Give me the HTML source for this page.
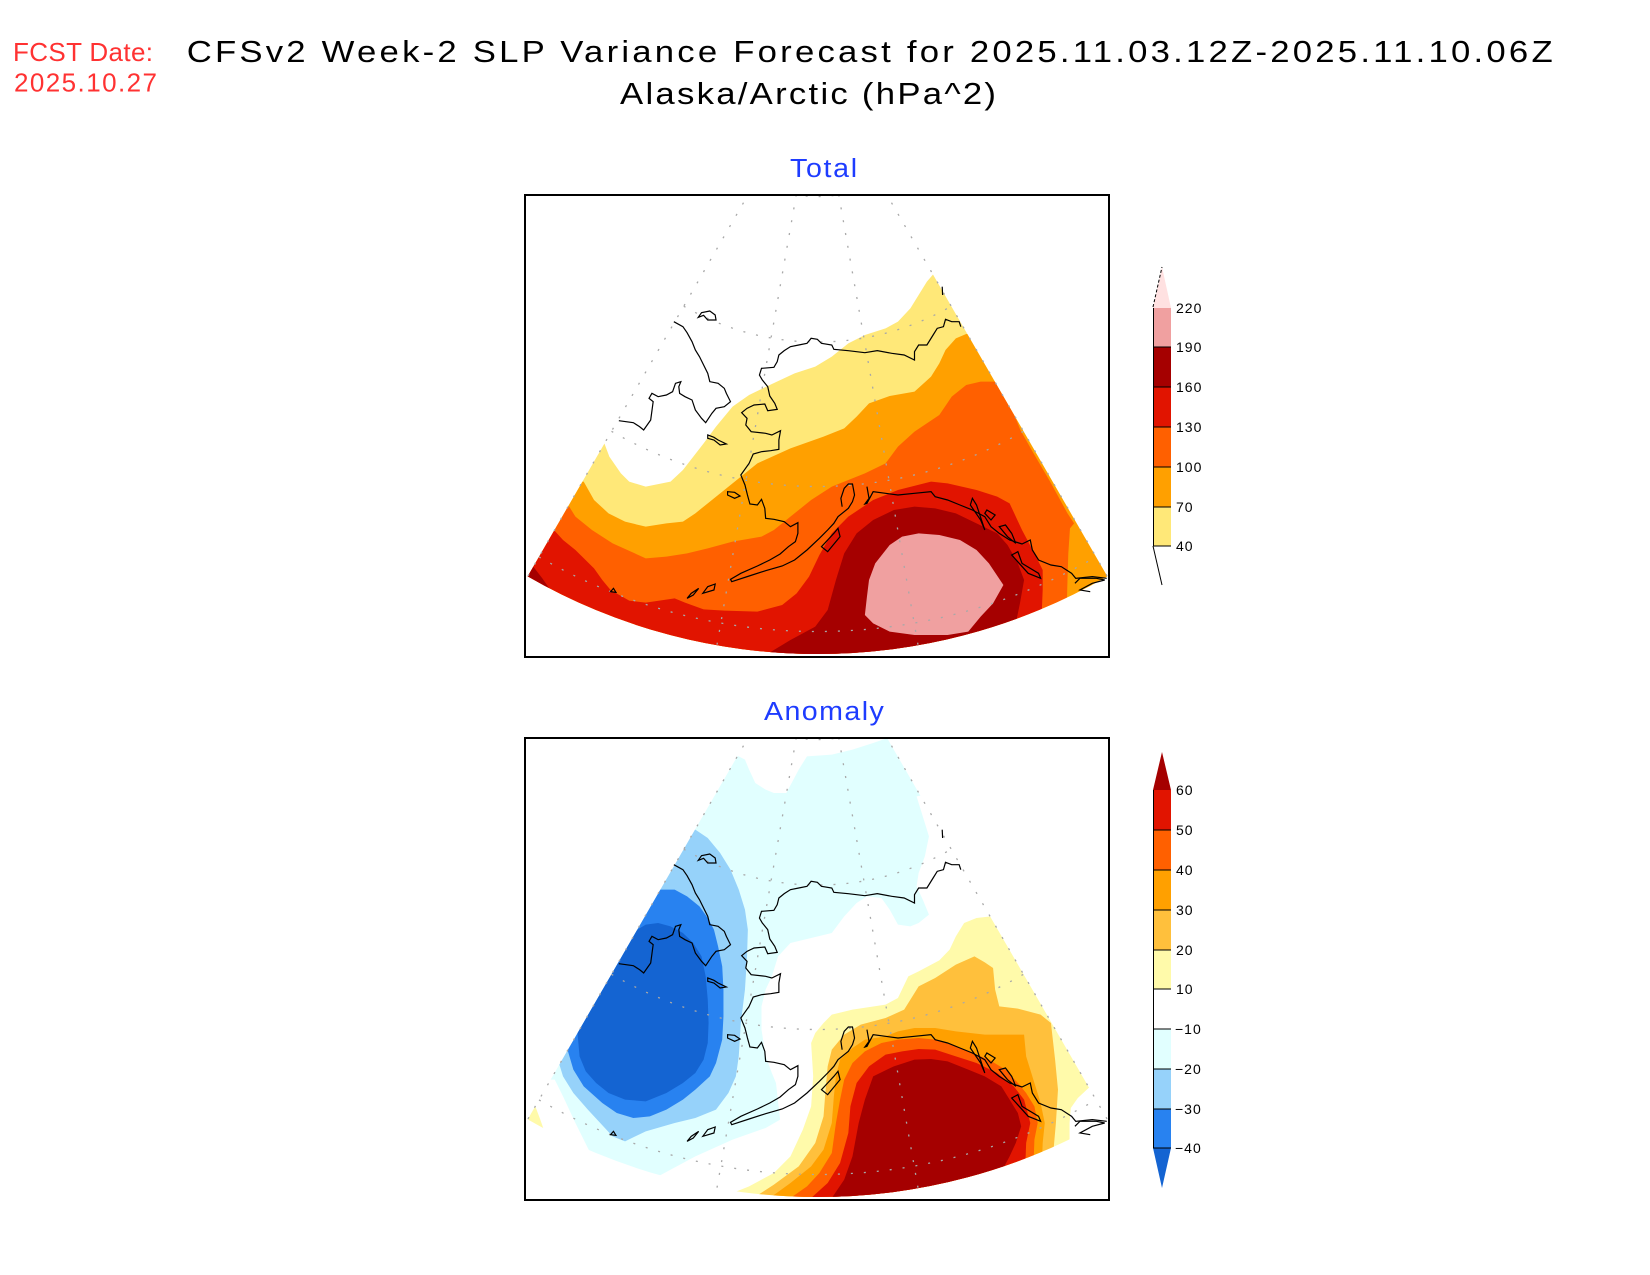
<!DOCTYPE html>
<html><head><meta charset="utf-8"><style>
html,body{margin:0;padding:0;background:#fff;}
svg{display:block;}
text{font-family:"Liberation Sans",sans-serif;}
</style></head><body>
<svg width="1650" height="1275" viewBox="0 0 1650 1275" xmlns="http://www.w3.org/2000/svg">
<defs>
  <clipPath id="box1"><rect x="526" y="196" width="582" height="460"/></clipPath>
  <clipPath id="box2"><rect x="526" y="739" width="582" height="460"/></clipPath>
  <clipPath id="fan1"><path d="M817.5,74.5 L527.7,576.4 A579.6,579.6 0 0 0 1107.3,576.4 Z"/></clipPath>
  <clipPath id="fan2"><path d="M817.5,617.5 L527.7,1119.4 A579.6,579.6 0 0 0 1107.3,1119.4 Z"/></clipPath>
  <g id="grid" fill="none" stroke="#a8a8a8" stroke-width="1.3" stroke-dasharray="2 11">
    <line x1="756.5" y1="180.2" x2="527.7" y2="576.4"/>
    <line x1="796.3" y1="194.6" x2="716.9" y2="645.3"/>
    <line x1="838.7" y1="194.6" x2="918.1" y2="645.3"/>
    <line x1="878.5" y1="180.2" x2="1107.3" y2="576.4"/>
    <path d="M756.5,180.2 A122,122 0 0 0 878.5,180.2"/>
    <path d="M683.75,306.2 A267.5,267.5 0 0 0 951.25,306.2"/>
    <path d="M611.5,431.3 A412,412 0 0 0 1023.5,431.3"/>
    <path d="M539,556.9 A557,557 0 0 0 1096,556.9"/>
  </g>
  <g id="coast" fill="none" stroke="#000" stroke-width="1.2" vector-effect="non-scaling-stroke">
    <path vector-effect="non-scaling-stroke" d="M418,425 L440,440 L450,458 L462,485 L470,510 L480,530 L490,555 L500,580 L505,605 L525,610 L540,625 L545,640 L555,665 L540,680 L520,685 L510,700 L495,728 L485,715 L470,690 L462,660 L445,650 L432,640 L430,620 L435,605 L422,610 L415,635 L400,645 L380,650 L365,640 L358,655 L368,665 L362,720 L345,750 L335,740 L320,728 L285,722"/>
    <path vector-effect="non-scaling-stroke" d="M505,393 L485,398 L477,412 L490,406 L500,420 L520,420 L518,405 Z"/>
    <path vector-effect="non-scaling-stroke" d="M500,765 L515,772 L525,780 L545,792 L530,795 L515,780 L500,775 Z"/>
    <path vector-effect="non-scaling-stroke" d="M548,935 L565,937 L578,948 L565,955 L548,945 Z"/>
    <path vector-effect="non-scaling-stroke" d="M265,1235 L272,1225 L278,1237 Z"/>
    <path vector-effect="non-scaling-stroke" d="M450,1255 L460,1240 L478,1225 L465,1245 Z"/>
    <path vector-effect="non-scaling-stroke" d="M488,1240 L500,1220 L518,1212 L515,1230 Z"/>
    <path vector-effect="non-scaling-stroke" d="M1067,320 L1068,345"/>
    <path vector-effect="non-scaling-stroke" d="M1112,440 L1108,425 L1090,425 L1075,418 L1070,440 L1055,445 L1045,465 L1030,495 L1010,495 L1000,515 L1000,540 L975,525 L945,520 L910,512 L880,518 L840,512 L805,508 L800,495 L775,490 L765,478 L750,475 L740,490 L720,495 L700,500 L685,512 L672,525 L668,545 L660,562 L630,565 L625,585 L632,600 L645,620 L650,648 L662,670 L668,688 L645,692 L638,672 L612,675 L595,685 L582,698 L595,715 L592,735 L605,755 L640,760 L655,765 L676,752 L672,780 L672,808 L652,812 L630,815 L610,822 L600,850 L580,885 L590,915 L596,945 L602,972 L620,975 L630,958 L638,985 L640,1015 L660,1018 L685,1025 L700,1040 L718,1028 L718,1060 L712,1085 L695,1100 L675,1122 L650,1140 L620,1158 L580,1180 L555,1198 L558,1205 L600,1188 L640,1172 L680,1158 L710,1140 L740,1110 L770,1075 L790,1050 L805,1030 L815,1010 L825,1000 L840,985 L850,965 L855,945 L850,912 L840,912 L830,925 L822,955 L825,980"/>
    <path vector-effect="non-scaling-stroke" d="M885,920 L890,955 L880,972 L885,970 L900,935 L930,940 L960,945 L1000,940 L1040,935 L1050,950 L1080,960 L1110,975 L1140,990 L1170,1010 L1185,1040 L1205,1060 L1230,1080 L1260,1092 L1280,1080 L1285,1110 L1300,1140 L1330,1155 L1355,1160 L1380,1180 L1390,1195 L1430,1190 L1465,1195"/>
    <path vector-effect="non-scaling-stroke" d="M775,1100 L790,1080 L805,1060 L815,1045 L820,1070 L810,1085 L800,1100 L790,1115 Z"/>
    <path vector-effect="non-scaling-stroke" d="M1135,975 L1140,955 L1150,975 L1170,1050 L1160,1020 Z"/>
    <path vector-effect="non-scaling-stroke" d="M1170,1000 L1175,990 L1195,1005 L1185,1020 Z"/>
    <path vector-effect="non-scaling-stroke" d="M1205,1040 L1220,1035 L1235,1060 L1245,1090 L1225,1070 Z"/>
    <path vector-effect="non-scaling-stroke" d="M1235,1125 L1250,1115 L1260,1150 L1300,1180 L1305,1195 L1275,1180 Z"/>
    <path vector-effect="non-scaling-stroke" d="M1388,1210 L1400,1195 L1440,1195 L1460,1200 L1430,1210 L1400,1230 L1425,1235"/>
  </g>
</defs>

<!-- Titles -->
<text x="13" y="61" font-size="26" fill="#ff3232" textLength="140" lengthAdjust="spacing">FCST Date:</text>
<text x="14" y="91.5" font-size="26" fill="#ff3232" textLength="143" lengthAdjust="spacing">2025.10.27</text>
<text transform="scale(1.12 1)" x="166.7" y="62" font-size="31" fill="#000" textLength="1219.6" lengthAdjust="spacing">CFSv2 Week-2 SLP Variance Forecast for 2025.11.03.12Z-2025.11.10.06Z</text>
<text transform="scale(1.12 1)" x="553.6" y="104" font-size="31" fill="#000" textLength="335.7" lengthAdjust="spacing">Alaska/Arctic (hPa^2)</text>
<text transform="scale(1.1 1)" x="718.2" y="177" font-size="26" fill="#1e3cff" textLength="61" lengthAdjust="spacing">Total</text>
<text transform="scale(1.1 1)" x="694.5" y="720" font-size="26" fill="#1e3cff" textLength="109" lengthAdjust="spacing">Anomaly</text>

<!-- TOP PANEL -->
<g clip-path="url(#box1)">
 <g clip-path="url(#fan1)">
  <g transform="matrix(0.4135 0 0 0.33333 501 180)">
   <polygon fill="#ffe878" points="-50,790 250,790 262,830 290,880 310,905 350,920 410,905 440,870 490,790 520,740 560,680 600,645 650,615 710,580 760,560 800,530 840,490 880,465 930,445 960,425 990,385 1010,345 1030,305 1045,283 1700,283 1700,1600 -50,1600"/>
   <polygon fill="#ffa000" points="-50,905 200,905 225,960 260,1000 300,1025 350,1040 400,1030 440,1025 470,1000 500,970 560,910 620,850 700,805 780,770 830,745 860,710 890,670 940,648 1000,635 1040,590 1060,550 1075,510 1100,475 1125,462 1700,462 1700,1600 -50,1600"/>
   <polygon fill="#ff6000" points="-50,980 165,980 180,1010 220,1050 270,1090 350,1135 400,1130 450,1120 500,1105 560,1085 630,1070 660,1050 700,1010 750,960 800,920 880,880 930,850 960,800 1000,755 1060,705 1090,650 1125,615 1160,605 1195,605 1240,700 1256,750 1288,820 1328,905 1370,1000 1386,1030 1376,1045 1372,1120 1370,1200 1368,1290 1368,1600 -50,1600"/>
   <polygon fill="#e11400" points="-50,1050 128,1050 150,1080 180,1110 225,1165 245,1200 265,1230 310,1262 350,1268 420,1255 445,1268 490,1288 540,1292 620,1295 680,1275 715,1240 745,1190 770,1125 800,1060 840,1010 900,960 960,930 1040,905 1080,910 1150,930 1200,950 1230,970 1260,1050 1290,1120 1310,1170 1310,1230 1308,1290 1308,1600 -50,1600"/>
   <polygon fill="#a50000" points="640,1600 640,1425 700,1380 760,1340 790,1290 810,1200 830,1120 860,1060 900,1020 950,990 1000,980 1050,985 1100,1000 1150,1030 1200,1060 1225,1095 1250,1150 1265,1200 1255,1270 1245,1330 1240,1600"/>
   <polygon fill="#a50000" points="-50,1150 78,1160 100,1195 125,1240 125,1600 -50,1600"/>
   <polygon fill="#f0a0a0" points="880,1305 885,1250 890,1200 905,1150 940,1095 970,1070 1010,1060 1060,1065 1110,1080 1150,1110 1180,1150 1215,1215 1190,1270 1160,1310 1130,1355 1080,1365 1000,1365 940,1355 900,1330"/>
  </g>
 </g>
 <use href="#grid"/>
 <g transform="matrix(0.4135 0 0 0.33333 501 180)"><use href="#coast"/></g>
</g>
<rect x="525" y="195" width="584" height="462" fill="none" stroke="#000" stroke-width="2"/>

<!-- BOTTOM PANEL -->
<g clip-path="url(#box2)">
 <g clip-path="url(#fan2)">
  <g transform="matrix(0.4135 0 0 0.33333 501 723)">
   <polygon fill="#e1ffff" points="0,95 560,95 575,100 590,110 600,140 615,180 640,200 660,210 690,210 705,175 720,140 740,100 800,95 850,80 900,60 935,45 935,-10 1100,-10 1100,200 1005,220 1020,280 1035,340 1025,400 1010,450 1005,490 1020,530 1035,575 1010,600 990,610 960,605 940,560 920,525 885,520 860,540 830,580 800,630 750,645 700,660 670,700 655,760 640,800 630,850 630,920 640,1000 655,1050 665,1080 675,1190 640,1215 560,1250 470,1300 380,1360 300,1330 220,1300 180,1200 150,1120 130,1070 0,1070"/>
   <polygon fill="#96d2fa" points="0,320 470,320 500,345 530,390 555,440 575,500 590,560 597,620 595,700 590,800 580,900 575,1000 568,1060 550,1110 520,1160 470,1185 420,1200 350,1225 300,1255 270,1240 240,1200 210,1160 175,1110 150,1060 140,1020 0,1020"/>
   <polygon fill="#2882f0" points="0,500 385,500 420,500 450,520 480,550 500,585 515,620 525,670 535,730 538,800 538,880 535,950 520,1020 505,1060 470,1100 440,1130 400,1160 360,1180 320,1185 280,1170 245,1140 200,1090 175,1040 162,985 0,985"/>
   <polygon fill="#1464d2" points="0,620 330,620 350,605 380,600 410,610 440,630 465,660 485,700 495,760 500,830 502,900 500,960 490,1010 470,1050 440,1080 400,1110 350,1135 300,1130 260,1110 230,1080 205,1045 190,1000 185,930 0,930"/>
   <polygon fill="#fffaaa" points="540,1600 560,1410 600,1390 660,1350 700,1300 730,1220 750,1150 755,1060 750,960 760,930 780,900 800,875 850,860 930,845 960,825 985,760 1010,745 1060,712 1085,680 1100,640 1120,600 1150,585 1185,580 1500,580 1500,1095 1421,1095 1395,1125 1378,1155 1375,1200 1375,1270 1375,1600"/>
   <polygon fill="#fffaaa" points="0,1150 83,1150 95,1190 105,1225 105,1600 0,1600"/>
   <polygon fill="#ffc03c" points="590,1600 610,1425 660,1385 720,1330 760,1260 780,1180 785,1100 790,1030 800,980 830,935 870,905 930,885 975,860 995,820 1010,790 1050,765 1100,725 1145,700 1170,718 1190,735 1195,800 1205,850 1250,857 1305,875 1330,900 1340,1010 1347,1100 1342,1200 1337,1270 1337,1600"/>
   <polygon fill="#ffa000" points="640,1600 650,1425 700,1380 750,1330 780,1280 800,1200 805,1120 810,1060 820,1010 850,975 880,950 930,940 960,925 1000,915 1050,915 1100,925 1170,935 1230,935 1265,935 1270,1000 1290,1080 1305,1140 1315,1200 1310,1260 1300,1600"/>
   <polygon fill="#ff6000" points="690,1600 700,1425 740,1390 770,1350 800,1290 810,1200 820,1130 830,1070 850,1020 880,985 920,960 960,950 1010,945 1050,950 1100,970 1140,990 1180,1010 1220,1040 1250,1080 1270,1110 1290,1150 1298,1200 1290,1250 1280,1600"/>
   <polygon fill="#e11400" points="740,1600 750,1425 790,1380 820,1320 840,1230 845,1150 860,1080 890,1030 930,995 970,985 1010,978 1050,980 1100,1000 1150,1020 1200,1050 1240,1090 1265,1130 1280,1200 1270,1260 1260,1600"/>
   <polygon fill="#a50000" points="790,1600 800,1425 830,1370 850,1300 865,1200 880,1130 900,1060 950,1030 1000,1010 1040,1008 1080,1015 1130,1040 1170,1060 1210,1090 1230,1130 1250,1170 1258,1210 1245,1260 1230,1300 1215,1335 1215,1600"/>
  </g>
 </g>
 <use href="#grid" transform="translate(0 543)"/>
 <g transform="matrix(0.4135 0 0 0.33333 501 723)"><use href="#coast"/></g>
</g>
<rect x="525" y="738" width="584" height="462" fill="none" stroke="#000" stroke-width="2"/>

<!-- TOP COLORBAR -->
<g>
 <polygon points="1153,308 1171,308 1162,267" fill="#ffe1e1"/>
 <line x1="1153" y1="307" x2="1162" y2="267" stroke="#000" stroke-width="1" stroke-dasharray="3 2"/>
 <rect x="1153" y="308" width="18" height="39" fill="#f0a0a0"/>
 <rect x="1153" y="347" width="18" height="40" fill="#a50000"/>
 <rect x="1153" y="387" width="18" height="40" fill="#e11400"/>
 <rect x="1153" y="427" width="18" height="40" fill="#ff6000"/>
 <rect x="1153" y="467" width="18" height="40" fill="#ffa000"/>
 <rect x="1153" y="507" width="18" height="39" fill="#ffe878"/>
 <line x1="1153" y1="546" x2="1162" y2="585" stroke="#000" stroke-width="1"/>
 <line x1="1153.5" y1="308" x2="1153.5" y2="546" stroke="#000" stroke-width="1"/>
 <g stroke="#000" stroke-width="1">
  <line x1="1153" y1="347" x2="1171" y2="347"/>
  <line x1="1153" y1="387" x2="1171" y2="387"/>
  <line x1="1153" y1="427" x2="1171" y2="427"/>
  <line x1="1153" y1="467" x2="1171" y2="467"/>
  <line x1="1153" y1="507" x2="1171" y2="507"/>
  <line x1="1153" y1="546" x2="1171" y2="546"/>
 </g>
 <g font-size="14" fill="#000" letter-spacing="1">
  <text x="1176" y="313">220</text>
  <text x="1176" y="352">190</text>
  <text x="1176" y="392">160</text>
  <text x="1176" y="432">130</text>
  <text x="1176" y="472">100</text>
  <text x="1176" y="512">70</text>
  <text x="1176" y="551">40</text>
 </g>
</g>

<!-- ANOMALY COLORBAR -->
<g>
 <polygon points="1153,790 1171,790 1162,752" fill="#a50000"/>
 <rect x="1153" y="790" width="18" height="40" fill="#e11400"/>
 <rect x="1153" y="830" width="18" height="40" fill="#ff6000"/>
 <rect x="1153" y="870" width="18" height="40" fill="#ffa000"/>
 <rect x="1153" y="910" width="18" height="40" fill="#ffc03c"/>
 <rect x="1153" y="950" width="18" height="39" fill="#fffaaa"/>
 <rect x="1153" y="1029" width="18" height="40" fill="#e1ffff"/>
 <rect x="1153" y="1069" width="18" height="40" fill="#96d2fa"/>
 <rect x="1153" y="1109" width="18" height="39" fill="#2882f0"/>
 <polygon points="1153,1148 1171,1148 1162,1188" fill="#1464d2"/>
 <line x1="1153.5" y1="790" x2="1153.5" y2="1148" stroke="#000" stroke-width="1"/>
 <g stroke="#000" stroke-width="1">
  <line x1="1153" y1="830" x2="1171" y2="830"/>
  <line x1="1153" y1="870" x2="1171" y2="870"/>
  <line x1="1153" y1="910" x2="1171" y2="910"/>
  <line x1="1153" y1="950" x2="1171" y2="950"/>
  <line x1="1153" y1="989" x2="1171" y2="989"/>
  <line x1="1153" y1="1029" x2="1171" y2="1029"/>
  <line x1="1153" y1="1069" x2="1171" y2="1069"/>
  <line x1="1153" y1="1109" x2="1171" y2="1109"/>
  <line x1="1153" y1="1148" x2="1171" y2="1148"/>
 </g>
 <g font-size="14" fill="#000" letter-spacing="1">
  <text x="1176" y="795">60</text>
  <text x="1176" y="835">50</text>
  <text x="1176" y="875">40</text>
  <text x="1176" y="915">30</text>
  <text x="1176" y="955">20</text>
  <text x="1176" y="994">10</text>
  <text x="1175" y="1034">−10</text>
  <text x="1175" y="1074">−20</text>
  <text x="1175" y="1114">−30</text>
  <text x="1175" y="1153">−40</text>
 </g>
</g>
</svg>
</body></html>
